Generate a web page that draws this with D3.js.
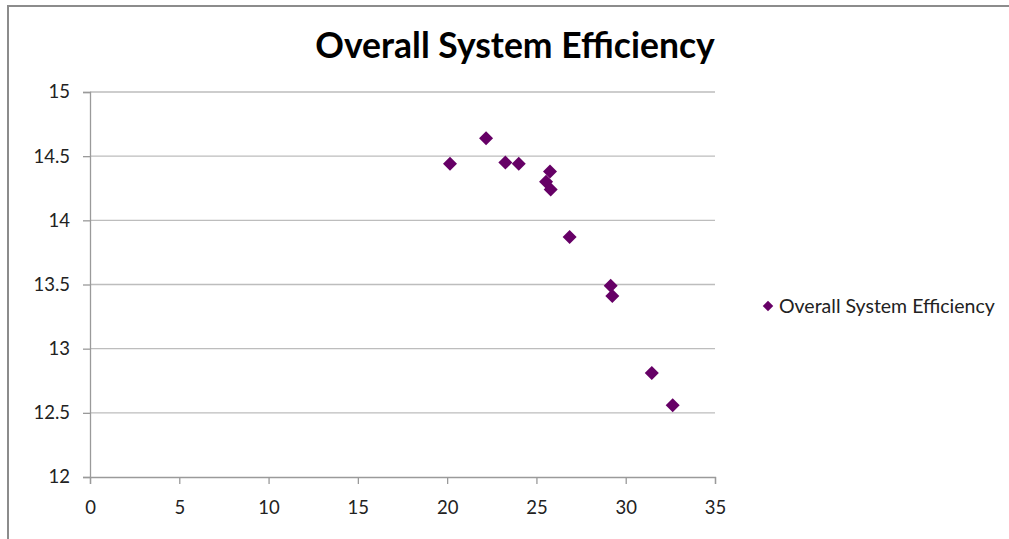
<!DOCTYPE html>
<html>
<head>
<meta charset="utf-8">
<script src="https://cdn.jsdelivr.net/npm/d3@7"></script>
<style>
  body { margin: 0; background: #fff; }
  text { font-family: Lato, "Open Sans", sans-serif; }
</style>
</head>
<body>
<div id="chart"></div>
<script>
// data
const seriesName = "Overall System Efficiency";
const xValues = [20.16, 22.18, 23.26, 24.01, 25.76, 25.54, 25.80, 26.86, 29.16, 29.25, 31.46, 32.63];
const yValues = [14.44, 14.64, 14.45, 14.44, 14.38, 14.30, 14.24, 13.87, 13.49, 13.41, 12.81, 12.56];
const xTicks = [0, 5, 10, 15, 20, 25, 30, 35];
const yTicks = [12, 12.5, 13, 13.5, 14, 14.5, 15];

const W = 1009, H = 539;
const margin = { top: 92, right: 294, bottom: 62, left: 90 };
const width = W - margin.left - margin.right,
  height = H - margin.top - margin.bottom;

const svg = d3.select("#chart").append("svg")
  .attr("width", W).attr("height", H);

// outer frame of the chart area
svg.append("rect")
  .attr("x", 8).attr("y", 6)
  .attr("width", W + 10).attr("height", H + 10)
  .attr("fill", "#fff")
  .attr("stroke", "#8c8c8c")
  .attr("stroke-width", 2);

const g = svg.append("g")
  .attr("transform", `translate(${margin.left}, ${margin.top})`);

const x = d3.scaleLinear().domain([0, 35]).range([0, width]);
const y = d3.scaleLinear().domain([12, 15]).range([height, 0]);

// horizontal gridlines
g.selectAll(".grid")
  .data(yTicks.filter(d => d !== 12))
  .join("line")
  .attr("x1", 0).attr("x2", width)
  .attr("y1", d => y(d)).attr("y2", d => y(d))
  .attr("stroke", "#bdbdbd")
  .attr("stroke-width", 1.3);

// y axis
const yAxis = g.append("g")
  .call(d3.axisLeft(y).tickValues(yTicks).tickSize(7).tickPadding(13)
    .tickFormat(d => d));
// x axis
const xAxis = g.append("g")
  .attr("transform", `translate(0, ${height})`)
  .call(d3.axisBottom(x).tickValues(xTicks).tickSize(7).tickPadding(17));

[yAxis, xAxis].forEach(a => {
  a.select(".domain").attr("stroke", "#9a9a9a").attr("stroke-width", 1.3);
  a.selectAll(".tick line").attr("stroke", "#9a9a9a").attr("stroke-width", 1.3);
  a.selectAll("text")
    .attr("font-family", "Lato, 'Open Sans', sans-serif")
    .attr("font-size", "18.5px")
    .attr("fill", "#222");
});

// points
const diamond = d3.symbol().type(d3.symbolDiamond2).size(125);
g.selectAll(".pt")
  .data(xValues.map((v, i) => [v, yValues[i]]))
  .join("path")
  .attr("d", diamond)
  .attr("transform", d => `translate(${x(d[0])}, ${y(d[1])})`)
  .attr("fill", "#660066");

// title
svg.append("text")
  .attr("x", 515).attr("y", 58)
  .attr("text-anchor", "middle")
  .attr("font-size", "35.5px")
  .attr("font-weight", "bold")
  .attr("fill", "#000")
  .text(seriesName);

// legend
svg.append("path")
  .attr("d", d3.symbol().type(d3.symbolDiamond2).size(70))
  .attr("transform", "translate(768, 306)")
  .attr("fill", "#660066");
svg.append("text")
  .attr("x", 779).attr("y", 312.5)
  .attr("font-size", "19.5px")
  .attr("fill", "#222")
  .text(seriesName);
</script>
</body>
</html>
